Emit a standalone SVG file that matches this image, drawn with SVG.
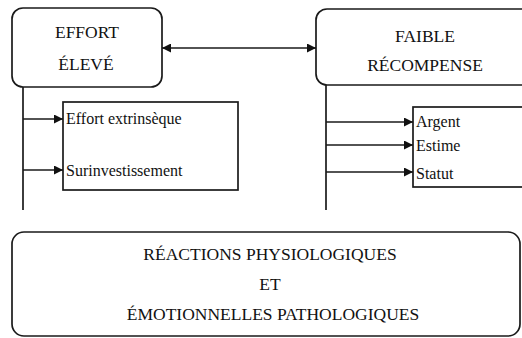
<svg xmlns="http://www.w3.org/2000/svg" width="522" height="338" viewBox="0 0 522 338">
<defs>
<marker id="ah" viewBox="0 0 10 10" refX="10" refY="5" markerWidth="11" markerHeight="9" markerUnits="userSpaceOnUse" orient="auto-start-reverse">
<path d="M0,0 L10,5 L0,10 z" fill="#111"/>
</marker>
<style>
.box{fill:none;stroke:#1a1a1a;stroke-width:1.7}
.ln{fill:none;stroke:#1a1a1a;stroke-width:1.7}
.h{font-size:17.5px;fill:#111;text-anchor:middle}
.s{font-size:16px;fill:#111}
</style>
</defs>
<rect width="522" height="338" fill="#fff"/>
<g font-family="Liberation Serif, DejaVu Serif, serif">
<g id="effort-eleve">
<rect class="box" x="12" y="8" width="150" height="79" rx="11"/>
<text class="h" x="87" y="38">EFFORT</text>
<text class="h" x="86" y="70">ÉLEVÉ</text>
</g>
<g id="faible-recompense">
<rect class="box" x="316" y="9" width="222" height="76" rx="11"/>
<text class="h" x="425" y="42">FAIBLE</text>
<text class="h" x="425" y="71">RÉCOMPENSE</text>
</g>
<g id="effort-items">
<rect class="box" x="63" y="102" width="175" height="88"/>
<text class="s" x="66" y="124">Effort extrinsèque</text>
<text class="s" x="66" y="176">Surinvestissement</text>
</g>
<g id="recompense-items">
<rect class="box" x="413" y="107" width="120" height="80"/>
<text class="s" x="416" y="127">Argent</text>
<text class="s" x="416" y="151">Estime</text>
<text class="s" x="416" y="179">Statut</text>
</g>
<g id="reactions">
<rect class="box" x="12" y="232" width="508" height="104" rx="12"/>
<text class="h" x="270" y="260">RÉACTIONS PHYSIOLOGIQUES</text>
<text class="h" x="270" y="290">ET</text>
<text class="h" x="273" y="320">ÉMOTIONNELLES PATHOLOGIQUES</text>
</g>
</g>
<g id="connectors">
<line class="ln" x1="162" y1="48" x2="316" y2="48" marker-start="url(#ah)" marker-end="url(#ah)"/>
<line class="ln" x1="23" y1="87" x2="23" y2="210"/>
<line class="ln" x1="23" y1="119" x2="63" y2="119" marker-end="url(#ah)"/>
<line class="ln" x1="23" y1="170" x2="63" y2="170" marker-end="url(#ah)"/>
<line class="ln" x1="326" y1="85" x2="326" y2="210"/>
<line class="ln" x1="326" y1="122" x2="413" y2="122" marker-end="url(#ah)"/>
<line class="ln" x1="326" y1="145" x2="413" y2="145" marker-end="url(#ah)"/>
<line class="ln" x1="326" y1="172" x2="413" y2="172" marker-end="url(#ah)"/>
</g>
</svg>
